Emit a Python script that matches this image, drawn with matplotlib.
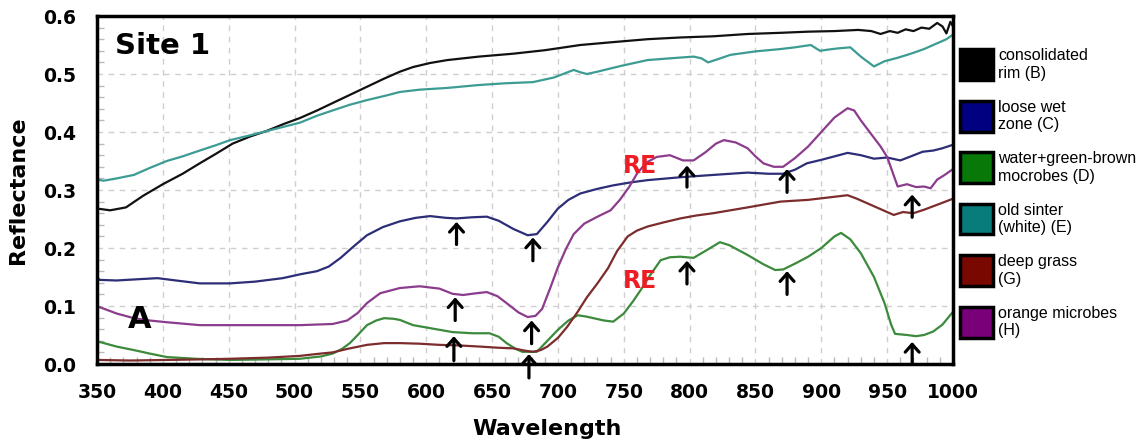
import matplotlib
matplotlib.use("Agg")
import matplotlib.pyplot as plt
from matplotlib.patches import Rectangle
from matplotlib.ticker import MultipleLocator

# spectra (wavelength nm, reflectance)
wl_b = [350, 360, 372, 385, 400, 415, 428, 440, 453, 466, 479, 492, 504, 517, 529, 542, 555, 568, 580, 590,
        603, 616, 640, 666, 690, 717, 742, 768, 793, 818, 844, 869, 890, 910, 928, 938, 945, 952, 958, 964,
        970, 976, 982, 988, 992, 995, 998, 1000]
refl_b = [0.268, 0.265, 0.270, 0.290, 0.310, 0.328, 0.346, 0.362, 0.380, 0.392, 0.402, 0.414, 0.424, 0.437,
          0.450, 0.464, 0.478, 0.492, 0.504, 0.512, 0.519, 0.524, 0.530, 0.535, 0.541, 0.550, 0.555, 0.560,
          0.563, 0.565, 0.569, 0.571, 0.573, 0.574, 0.576, 0.574, 0.569, 0.574, 0.571, 0.577, 0.574, 0.580,
          0.578, 0.588, 0.582, 0.570, 0.590, 0.582]

wl_c = [350, 352, 365, 380, 396, 410, 428, 451, 470, 491, 505, 517, 526, 535, 545, 555, 567, 580, 592, 603,
        615, 623, 635, 646, 655, 666, 677, 684, 692, 700, 708, 717, 730, 742, 755, 768, 793, 818, 844, 860,
        871, 880, 889, 900, 910, 920, 930, 940, 950, 960, 968, 977, 985, 992, 1000]
refl_c = [0.150, 0.145, 0.144, 0.146, 0.148, 0.144, 0.139, 0.139, 0.142, 0.148, 0.155, 0.160, 0.168, 0.183,
          0.203, 0.222, 0.236, 0.246, 0.252, 0.255, 0.252, 0.251, 0.253, 0.254, 0.247, 0.233, 0.222, 0.224,
          0.245, 0.268, 0.283, 0.294, 0.302, 0.308, 0.313, 0.317, 0.322, 0.326, 0.330, 0.328, 0.328, 0.335,
          0.346, 0.352, 0.358, 0.364, 0.360, 0.354, 0.356, 0.351, 0.358, 0.366, 0.368, 0.372, 0.378]

wl_d = [350, 352, 365, 378, 390, 403, 425, 451, 480, 504, 520, 529, 536, 542, 548, 555, 562, 568, 575, 580,
        590, 605, 620, 635, 648, 655, 661, 668, 673, 684, 692, 700, 708, 715, 721, 727, 735, 742, 750, 757,
        763, 770, 778, 785, 793, 803, 812, 823, 830, 844, 856, 865, 871, 880, 890, 900, 910, 915, 922, 930,
        940, 948, 953, 956, 965, 972, 978, 985, 992, 1000]
refl_d = [0.038, 0.038, 0.030, 0.024, 0.018, 0.012, 0.009, 0.007, 0.008, 0.009, 0.013, 0.018, 0.026, 0.036,
          0.050, 0.067, 0.075, 0.079, 0.078, 0.076, 0.067, 0.061, 0.055, 0.053, 0.053, 0.047, 0.036, 0.026,
          0.021, 0.021, 0.040, 0.059, 0.075, 0.084, 0.082, 0.079, 0.075, 0.073, 0.087, 0.108, 0.128, 0.153,
          0.179, 0.184, 0.185, 0.183, 0.195, 0.210, 0.205, 0.188, 0.172, 0.162, 0.163, 0.173, 0.185, 0.200,
          0.220, 0.226, 0.215, 0.191, 0.150, 0.105, 0.068, 0.052, 0.050, 0.048, 0.050, 0.056, 0.068, 0.090]

wl_e = [350, 355, 365, 378, 390, 403, 415, 428, 440, 451, 464, 476, 490, 504, 517, 530, 542, 555, 568, 580,
        595, 616, 640, 660, 681, 697, 712, 717, 722, 730, 748, 768, 785, 803, 809, 814, 822, 831, 850, 869,
        880, 892, 899, 905, 912, 922, 930, 940, 948, 958, 968, 978, 988, 995, 1000]
refl_e = [0.318, 0.316, 0.320, 0.326, 0.338, 0.350, 0.358, 0.368, 0.377, 0.386, 0.393, 0.400, 0.408, 0.416,
          0.428, 0.438, 0.447, 0.455, 0.462, 0.469, 0.473, 0.476, 0.481, 0.484, 0.486, 0.494, 0.507, 0.503,
          0.500, 0.504, 0.514, 0.524, 0.527, 0.530, 0.527, 0.520, 0.526, 0.533, 0.539, 0.543, 0.546, 0.550,
          0.540, 0.542, 0.544, 0.546, 0.530, 0.513, 0.522, 0.528, 0.535, 0.543, 0.553, 0.560, 0.568]

wl_g = [350, 375, 403, 430, 451, 480, 504, 520, 529, 540, 555, 568, 580, 595, 610, 625, 641, 655, 666, 675,
        681, 687, 692, 700, 707, 715, 722, 730, 738, 745, 753, 760, 768, 780, 793, 805, 818, 844, 869, 890,
        905, 920, 927, 935, 942, 950, 955, 962, 970, 978, 985, 992, 1000]
refl_g = [0.007, 0.006, 0.007, 0.008, 0.009, 0.011, 0.014, 0.018, 0.020, 0.026, 0.033, 0.036, 0.036, 0.035,
          0.033, 0.032, 0.030, 0.028, 0.027, 0.023, 0.021, 0.024, 0.030, 0.045, 0.064, 0.090, 0.115, 0.139,
          0.165, 0.195, 0.220, 0.230, 0.237, 0.244, 0.251, 0.256, 0.260, 0.270, 0.280, 0.283, 0.287, 0.291,
          0.285, 0.277, 0.270, 0.262, 0.257, 0.262, 0.260, 0.266, 0.272, 0.278, 0.285]

wl_h = [350, 352, 365, 378, 390, 403, 428, 451, 480, 504, 529, 540, 548, 555, 565, 580, 595, 610, 620, 628,
        638, 646, 654, 661, 670, 677, 683, 688, 694, 700, 706, 712, 720, 730, 740, 747, 754, 760, 767, 775,
        785, 795, 803, 812, 820, 826, 835, 844, 850, 856, 864, 871, 880, 890, 900, 910, 920, 925, 930, 940,
        945, 950, 955, 958, 965, 972, 978, 983, 988, 993, 1000]
refl_h = [0.098, 0.098, 0.087, 0.079, 0.075, 0.072, 0.067, 0.067, 0.067, 0.067, 0.069, 0.075, 0.088, 0.105,
          0.122, 0.131, 0.134, 0.130, 0.121, 0.119, 0.122, 0.124, 0.117, 0.105, 0.089, 0.081, 0.083, 0.095,
          0.130, 0.167, 0.198, 0.224, 0.242, 0.254, 0.265, 0.283, 0.305, 0.328, 0.347, 0.357, 0.360, 0.351,
          0.351, 0.365, 0.380, 0.386, 0.382, 0.372, 0.358, 0.346, 0.340, 0.340, 0.355, 0.375, 0.400, 0.425,
          0.441, 0.437, 0.420, 0.390, 0.375, 0.357, 0.325, 0.306, 0.310, 0.305, 0.306, 0.303, 0.318, 0.325,
          0.336]

labels = ["consolidated\nrim (B)", "loose wet\nzone (C)", "water+green-brown\nmocrobes (D)",
          "old sinter\n(white) (E)", "deep grass\n(G)", "orange microbes\n(H)"]
line_colors = ["#111111", "#2d2d78", "#3c8a3c", "#3c9c94", "#7c2c2c", "#8c3c8c"]
box_colors = ["#000000", "#000080", "#087808", "#087b7b", "#780800", "#7a007a"]

# arrows: (wavelength, tail, tip)
arrow_x = [623, 681, 622, 680, 621, 678, 798, 798, 874, 874, 969, 969]
arrow_tail = [0.206, 0.178, 0.075, 0.035, 0.006, -0.024, 0.305, 0.138, 0.296, 0.120, 0.253, 0.000]
arrow_tip = [0.245, 0.218, 0.115, 0.075, 0.048, 0.017, 0.342, 0.178, 0.336, 0.160, 0.292, 0.038]

fig = plt.figure(figsize=(11.44, 4.44), dpi=100)
ax = fig.add_axes([97 / 1144, 80 / 444, 856 / 1144, 348 / 444])

series = [(wl_b, refl_b), (wl_c, refl_c), (wl_d, refl_d), (wl_e, refl_e), (wl_g, refl_g), (wl_h, refl_h)]
for (w, r), c in zip(series, line_colors):
    ax.plot(w, r, color=c, lw=1.6)

ax.set_xlim(350, 1000)
ax.set_ylim(0, 0.6)
ax.xaxis.set_major_locator(MultipleLocator(50))
ax.yaxis.set_major_locator(MultipleLocator(0.1))
ax.xaxis.set_minor_locator(MultipleLocator(10))
ax.yaxis.set_minor_locator(MultipleLocator(0.02))
ax.yaxis.set_major_formatter(matplotlib.ticker.FormatStrFormatter("%.1f"))
ax.grid(True, which="major", color="#cfcfcf", linestyle=(0, (4, 4)), lw=1)
ax.tick_params(which="major", length=0, pad=14)
ax.tick_params(axis="y", which="major", pad=15)
ax.tick_params(which="minor", direction="in", length=5, width=1, color="#bbbbbb",
               top=False, right=False)
for lab in ax.get_xticklabels() + ax.get_yticklabels():
    lab.set_fontweight("bold")
    lab.set_fontsize(13.5)
for s in ax.spines.values():
    s.set_linewidth(2.5)

for x, t0, t1 in zip(arrow_x, arrow_tail, arrow_tip):
    ax.annotate("", xy=(x, t1), xytext=(x, t0),
                arrowprops=dict(arrowstyle="->,head_length=0.28,head_width=0.25", lw=2.3,
                                color="black", mutation_scale=20, shrinkA=0, shrinkB=0),
                annotation_clip=False)

ax.text(762, 0.341, "RE", color="#ee1c24", fontsize=17, fontweight="bold", ha="center", va="center")
ax.text(762, 0.143, "RE", color="#ee1c24", fontsize=17, fontweight="bold", ha="center", va="center")
ax.text(115 / 1144, 1 - 46 / 444, "Site 1", transform=fig.transFigure, fontsize=21,
        fontweight="bold", ha="left", va="center")
ax.text(140 / 1144, 1 - 319 / 444, "A", transform=fig.transFigure, fontsize=22,
        fontweight="bold", ha="center", va="center")

fig.text(18 / 1144, 1 - 190 / 444, "Reflectance", rotation=90, fontsize=16, fontweight="bold",
         ha="center", va="center")
fig.text(547 / 1144, 1 - 429 / 444, "Wavelength", fontsize=16, fontweight="bold",
         ha="center", va="center")

# legend boxes on the right
for i, (lab, c) in enumerate(zip(labels, box_colors)):
    top = 49 + i * 51.5
    fig.add_artist(Rectangle((960 / 1144, 1 - (top + 31) / 444), 33 / 1144, 31 / 444,
                             transform=fig.transFigure, facecolor=c, edgecolor="black", lw=2.5))
    fig.text(998 / 1144, 1 - (top + 15.5) / 444, lab, fontsize=11.5, family="Liberation Sans",
             ha="left", va="center", linespacing=1.2)

fig.savefig("out.png", dpi=100)
